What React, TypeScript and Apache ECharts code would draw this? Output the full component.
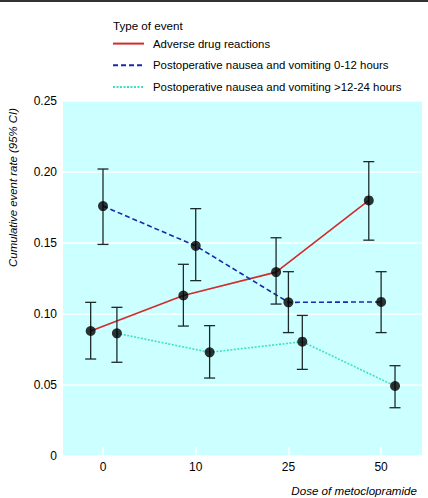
import React, { useEffect, useRef } from "react";
import * as echarts from "echarts";

const doseLabels = ["0", "10", "25", "50"];
const doseIndex = [0, 1, 2, 3];

const seriesNames = [
  "Adverse drug reactions",
  "Postoperative nausea and vomiting 0-12 hours",
  "Postoperative nausea and vomiting >12-24 hours",
];

const adrRate = [0.088, 0.113, 0.1295, 0.18];
const adrLow = [0.0683, 0.0915, 0.107, 0.152];
const adrHigh = [0.1082, 0.135, 0.1537, 0.2073];

const ponvEarlyRate = [0.176, 0.148, 0.1082, 0.1085];
const ponvEarlyLow = [0.149, 0.1235, 0.0869, 0.0869];
const ponvEarlyHigh = [0.2021, 0.1742, 0.1298, 0.1298];

const ponvLateRate = [0.0864, 0.073, 0.0805, 0.0493];
const ponvLateLow = [0.066, 0.0549, 0.061, 0.034];
const ponvLateHigh = [0.1047, 0.0918, 0.099, 0.0636];

const yTicks = [0, 0.05, 0.1, 0.15, 0.2, 0.25];

const FONT = "'Liberation Sans', Arial, Helvetica, sans-serif";

export default function App() {
  const ref = useRef<HTMLDivElement>(null);
  useEffect(() => {
    if (!ref.current) return;
    const chart = echarts.init(ref.current, null, { renderer: "svg" });

    const groups = [
      { name: seriesNames[0], rate: adrRate, low: adrLow, high: adrHigh, offset: -0.133, color: "#d42a2a", dash: "solid" as any },
      { name: seriesNames[1], rate: ponvEarlyRate, low: ponvEarlyLow, high: ponvEarlyHigh, offset: 0, color: "#1a2aa8", dash: [5, 3] },
      { name: seriesNames[2], rate: ponvLateRate, low: ponvLateLow, high: ponvLateHigh, offset: 0.15, color: "#3fe0c0", dash: [2, 1.5] },
    ];

    const series: any[] = [];
    groups.forEach((g) => {
      const xs = doseIndex.map((d) => d + g.offset);
      series.push({
        name: g.name,
        type: "line",
        data: xs.map((x, i) => [x, g.rate[i]]),
        symbol: "none",
        lineStyle: { color: g.color, width: 1.6, type: g.dash },
        itemStyle: { color: g.color },
        z: 2,
      });
      series.push({
        name: g.name + " CI",
        type: "custom",
        data: xs.map((x, i) => [x, g.low[i], g.high[i]]),
        encode: { x: 0, y: [1, 2] },
        z: 3,
        renderItem: (params: any, api: any) => {
          const x = api.value(0);
          const top = api.coord([x, api.value(2)]);
          const bot = api.coord([x, api.value(1)]);
          const hw = 5.5;
          const st = { stroke: "#1e2a2a", lineWidth: 1.3 };
          return {
            type: "group",
            children: [
              { type: "line", shape: { x1: top[0], y1: top[1], x2: bot[0], y2: bot[1] }, style: st },
              { type: "line", shape: { x1: top[0] - hw, y1: top[1], x2: top[0] + hw, y2: top[1] }, style: st },
              { type: "line", shape: { x1: bot[0] - hw, y1: bot[1], x2: bot[0] + hw, y2: bot[1] }, style: st },
            ],
          };
        },
      });
      series.push({
        name: g.name + " points",
        type: "scatter",
        data: xs.map((x, i) => [x, g.rate[i]]),
        symbol: "circle",
        symbolSize: 10,
        itemStyle: { color: "#000" },
        z: 4,
      });
    });

    chart.setOption({
      animation: false,
      backgroundColor: "#fff",
      textStyle: { fontFamily: FONT },
      title: {
        text: "Type of event",
        left: 113,
        top: 19,
        padding: 0,
        textStyle: { fontFamily: FONT, fontSize: 11.6, fontWeight: "normal", color: "#000" },
      },
      legend: {
        data: seriesNames.map((n) => ({ name: n, itemStyle: { opacity: 0 } })),
        orient: "vertical",
        left: 112,
        top: 38,
        itemWidth: 31,
        itemHeight: 14,
        itemGap: 10.5,
        padding: 0,
        textStyle: { fontFamily: FONT, fontSize: 11.4, color: "#000", padding: [0, 0, 0, 4] },
        selectedMode: false,
      },
      grid: {
        left: 63,
        top: 101,
        right: 6,
        bottom: 42,
        show: true,
        backgroundColor: "#ccffff",
        borderWidth: 0,
      },
      xAxis: {
        type: "value",
        min: -0.4315,
        max: 3.441,
        axisLine: { show: false },
        splitLine: { show: false },
        axisTick: {
          show: true,
          inside: true,
          length: 9,
          customValues: doseIndex,
          lineStyle: { color: "#fff", width: 1.5 },
        },
        axisLabel: {
          customValues: doseIndex,
          formatter: (v: number) => doseLabels[Math.round(v)] ?? "",
          margin: 5,
          fontSize: 12,
          color: "#000",
          fontFamily: FONT,
        },
      },
      yAxis: {
        type: "value",
        min: 0,
        max: 0.25,
        interval: 0.05,
        axisLine: { show: false },
        axisTick: { show: false },
        splitLine: { show: true, lineStyle: { color: "#fff", width: 1.5 } },
        axisLabel: {
          customValues: yTicks,
          formatter: (v: number) => (v === 0 ? "0" : v.toFixed(2)),
          margin: 6,
          fontSize: 12,
          color: "#000",
          fontFamily: FONT,
        },
      },
      graphic: [
        { type: "rect", left: 0, top: 0, shape: { width: 428, height: 2 }, style: { fill: "#333" } },
        {
          type: "text",
          x: 13,
          y: 108,
          rotation: Math.PI / 2,
          style: {
            text: "Cumulative event rate (95% CI)",
            fontFamily: FONT,
            fontSize: 11.4,
            fontStyle: "italic",
            fill: "#000",
            align: "right",
            verticalAlign: "middle",
          },
        },
        {
          type: "text",
          x: 417,
          y: 490,
          style: {
            text: "Dose of metoclopramide",
            fontFamily: FONT,
            fontSize: 11.6,
            fontStyle: "italic",
            fill: "#000",
            align: "right",
            verticalAlign: "middle",
          },
        },
      ],
      series,
    });
    return () => chart.dispose();
  }, []);
  return (
    <div
      ref={ref}
      style={{ position: "fixed", left: 0, top: 0, width: 428, height: 498 }}
    />
  );
}
